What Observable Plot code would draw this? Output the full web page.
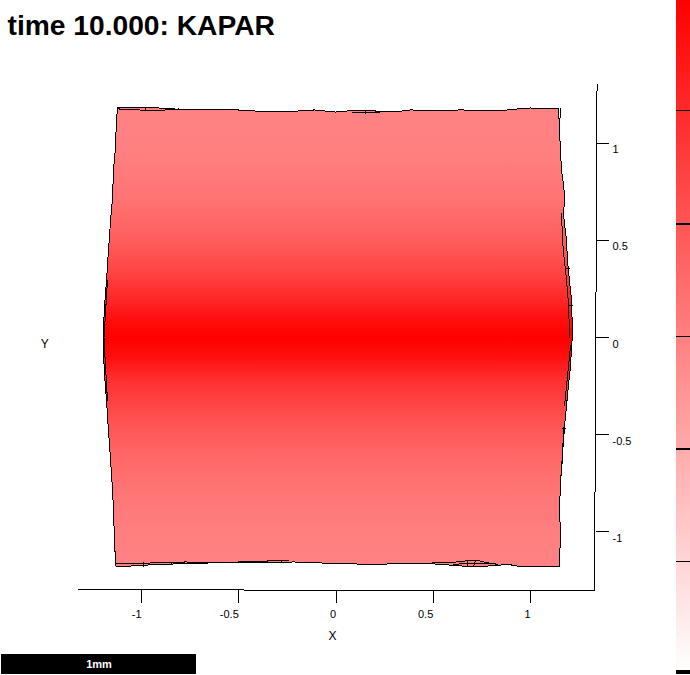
<!DOCTYPE html>
<html>
<head>
<meta charset="utf-8">
<style>html,body{margin:0;padding:0;background:#fff}svg{display:block}</style>
<script src="https://cdn.jsdelivr.net/npm/d3@7"></script>
<script src="https://cdn.jsdelivr.net/npm/@observablehq/plot@0.6"></script>
</head>
<body>
<script>
// Deformed surface outline
const outlineX = [-1.123,-0.943,-0.877,-0.763,-0.527,-0.450,-0.234,-0.157,-0.111,-0.003,0.085,0.193,0.254,0.321,0.383,0.512,0.640,0.794,0.887,0.933,1.000,1.144,
  1.149,1.154,1.159,1.170,1.175,1.170,1.185,1.190,1.200,1.211,1.216,1.211,1.206,1.195,1.185,1.175,1.170,1.165,1.159,1.154,1.149,1.154,1.149,
  0.959,0.887,0.820,0.753,0.676,0.604,0.537,0.332,0.193,0.116,0.039,-0.172,-0.213,-0.337,-0.491,-0.640,-0.748,-0.918,-1.057,-1.131,
  -1.134,-1.139,-1.144,-1.149,-1.159,-1.170,-1.180,-1.190,-1.195,-1.198,-1.195,-1.190,-1.180,-1.170,-1.159,-1.149,-1.144,-1.134,-1.129,-1.123];
const outlineY = [1.183,1.183,1.177,1.172,1.172,1.165,1.162,1.167,1.170,1.159,1.167,1.165,1.162,1.162,1.170,1.167,1.170,1.167,1.170,1.175,1.180,1.175,
  1.064,0.961,0.859,0.781,0.730,0.627,0.499,0.396,0.293,0.190,0.010,-0.041,-0.144,-0.247,-0.350,-0.452,-0.530,-0.581,-0.684,-0.735,-0.900,-0.992,-1.177,
  -1.180,-1.167,-1.172,-1.177,-1.177,-1.172,-1.165,-1.162,-1.167,-1.165,-1.162,-1.157,-1.154,-1.157,-1.157,-1.159,-1.162,-1.167,-1.175,-1.177,
  -1.147,-1.044,-0.889,-0.787,-0.632,-0.478,-0.324,-0.195,-0.093,0,0.062,0.165,0.293,0.447,0.602,0.720,0.859,0.977,1.116,1.183];

// Fold lines visible along the edges of the surface
const foldId = [1,1,1,1,1, 2,2, 3,3, 4,4, 5,5, 6,6,6,6,6,6,6, 7,7, 8,8, 9,9,9, 10,10, 11,11,11,11, 12,12, 13,13, 14,14, 15,15, 16,16, 17,17, 18,18,18,18,18,18, 19,19, 20,20, 21,21, 22,22,22,22,22, 23,23,23];
const foldX = [-1.118,-1.015,-0.913,-0.861,-0.810, -0.979,-0.979, 0.085,0.224, 0.152,0.152, 1.154,1.149, 1.159,1.165,1.170,1.180,1.185,1.195,1.201, 1.195,1.216, 1.180,1.200, 1.170,1.165,1.159, 1.165,1.180, -1.128,-0.990,-0.923,-0.779, -0.990,-0.990, -0.848,-0.848, -0.352,-0.244, -0.280,-0.280, -0.501,-0.352, -0.779,-0.640, 0.496,0.604,0.681,0.733,0.769,0.830, 0.676,0.676, 0.717,0.707, 0.604,0.820, -1.175,-1.185,-1.193,-1.185,-1.175, 1.206,1.185,1.175];
const foldY = [1.175,1.170,1.165,1.172,1.175, 1.183,1.167, 1.157,1.157, 1.167,1.151, 1.175,1.080, 0.638,0.499,0.432,0.344,0.293,0.175,0, 0.165,0.165, 0.355,0.355, -0.463,-0.591,-0.709, -0.468,-0.468, -1.162,-1.162,-1.157,-1.157, -1.159,-1.175, -1.157,-1.170, -1.146,-1.146, -1.146,-1.157, -1.154,-1.154, -1.154,-1.157, -1.159,-1.156,-1.147,-1.147,-1.156,-1.167, -1.147,-1.177, -1.147,-1.177, -1.165,-1.162, 0.293,0.130,0,-0.150,-0.324, -0.040,-0.247,-0.350];

// KAPAR value across the surface, read against Y
const bandY = [1.177,0.961,0.704,0.499,0.344,0.190,0.087,0,-0.093,-0.221,-0.427,-0.632,-0.838,-1.044,-1.177];
const bandKapar = [0.49,0.50,0.55,0.64,0.73,0.85,0.95,1,0.95,0.81,0.68,0.59,0.53,0.50,0.495];

// Colour bar
const barX = [1.751,1.8226];
const barY = [1.7326,-1.738];
const barGradientY = [1.7326,-1.722];
const barGradientKapar = [1,0];
const barTicksThin = [1.167,0.005,-1.152];
const barTicksMid = [0.586,-0.571];
const barTicksThick = [-1.722];

// Axes
const xTicks = [-1,-0.5,0,0.5,1];
const yTicks = [-1,-0.5,0,0.5,1];
const xAxisLineX = [-1.324,1.332];
const xAxisLineY = [-1.296,-1.303];
const yAxisLineX = [1.342,1.329];
const yAxisLineY = [1.301,-1.301];
const xTitle = {text:"X", x:-0.018, y:-1.537};
const yTitle = {text:"Y", x:-1.497, y:-0.036};

// Scale bar
const scaleBarX = [-1.720,-0.717];
const scaleBarY = [-1.630,-1.733];
const scaleBarText = "1mm";

const titleText = "time 10.000: KAPAR";

const colorScale = Plot.scale({color:{type:"linear",domain:[0,1],range:["#ffffff","#ff0000"]}});

function gradient(id, ys, values){
  return (index, {y}) => {
    const g = d3.create("svg:defs");
    const lg = g.append("linearGradient").attr("id",id).attr("gradientUnits","userSpaceOnUse")
      .attr("x1",0).attr("x2",0).attr("y1",y(ys[0])).attr("y2",y(ys[ys.length-1]));
    const y0=y(ys[0]), y1=y(ys[ys.length-1]);
    ys.forEach((v,i)=>lg.append("stop").attr("offset",(y(v)-y0)/(y1-y0)).attr("stop-color",colorScale.apply(values[i])));
    return g.node();
  };
}
const idx = a => a.map((_,i)=>i);
const crisp = {shapeRendering:"crispEdges"};

const chart = Plot.plot({
  width:690, height:675,
  marginLeft:78, marginRight:95, marginTop:84, marginBottom:85,
  x:{domain:[-1.324,1.334]},
  y:{domain:[-1.3008,1.3008]},
  style:{fontFamily:"'Liberation Sans',Arial,sans-serif",background:"#fff",color:"#000"},
  marks:[
    gradient("kapar",bandY,bandKapar),
    gradient("cbar",barGradientY,barGradientKapar),
    // surface
    Plot.line(idx(outlineX),{x:i=>outlineX[i],y:i=>outlineY[i],fill:"url(#kapar)",stroke:"#000",strokeWidth:1,...crisp}),
    Plot.line(idx(foldX),{x:i=>foldX[i],y:i=>foldY[i],z:i=>foldId[i],stroke:"#000",strokeWidth:1,...crisp}),
    // axes lines
    Plot.line(idx(xAxisLineX),{x:i=>xAxisLineX[i],y:i=>xAxisLineY[i],stroke:"#000",strokeWidth:1,...crisp}),
    Plot.line(idx(yAxisLineX),{x:i=>yAxisLineX[i],y:i=>yAxisLineY[i],stroke:"#000",strokeWidth:1,...crisp}),
    Plot.axisX({anchor:"bottom",ticks:xTicks,tickSize:13,text:null,label:null,stroke:"#000",...crisp}),
    Plot.axisY({anchor:"right",ticks:yTicks,tickSize:13,text:null,label:null,stroke:"#000",...crisp}),
    Plot.text(xTicks,{x:d=>d,frameAnchor:"bottom",lineAnchor:"middle",dy:23.5,textAnchor:"end",text:d=>String(d),fontSize:11,fill:"#000"}),
    Plot.text(yTicks,{y:d=>d,frameAnchor:"right",lineAnchor:"middle",dx:17,dy:6.5,textAnchor:"start",text:d=>String(d),fontSize:11,fill:"#000"}),
    Plot.text([xTitle,yTitle],{x:"x",y:"y",text:"text",fontSize:12,fill:"#000"}),
    // scale bar
    Plot.rect([0],{x1:()=>scaleBarX[0],x2:()=>scaleBarX[1],y1:()=>scaleBarY[0],y2:()=>scaleBarY[1],fill:"#000",...crisp}),
    Plot.text([scaleBarText],{x:(scaleBarX[0]+scaleBarX[1])/2,y:(scaleBarY[0]+scaleBarY[1])/2,text:d=>d,fill:"#fff",fontSize:11,fontWeight:"bold"}),
    // colour bar
    Plot.rect([0],{x1:()=>barX[0],x2:()=>barX[1],y1:()=>barY[0],y2:()=>barY[1],fill:"url(#cbar)",...crisp}),
    Plot.ruleY(barTicksThin,{x1:barX[0],x2:barX[1],stroke:"#000",strokeWidth:1,...crisp}),
    Plot.ruleY(barTicksMid,{x1:barX[0],x2:barX[1],stroke:"#000",strokeWidth:2,...crisp}),
    Plot.ruleY(barTicksThick,{x1:barX[0],x2:barX[1],stroke:"#000",strokeWidth:4,...crisp}),
    // title
    Plot.text([titleText],{x:-1.689,y:1.604,text:d=>d,textAnchor:"start",fontSize:28.2,fontWeight:"bold",fill:"#000"})
  ]
});
document.body.appendChild(chart);
</script>
</body>
</html>
